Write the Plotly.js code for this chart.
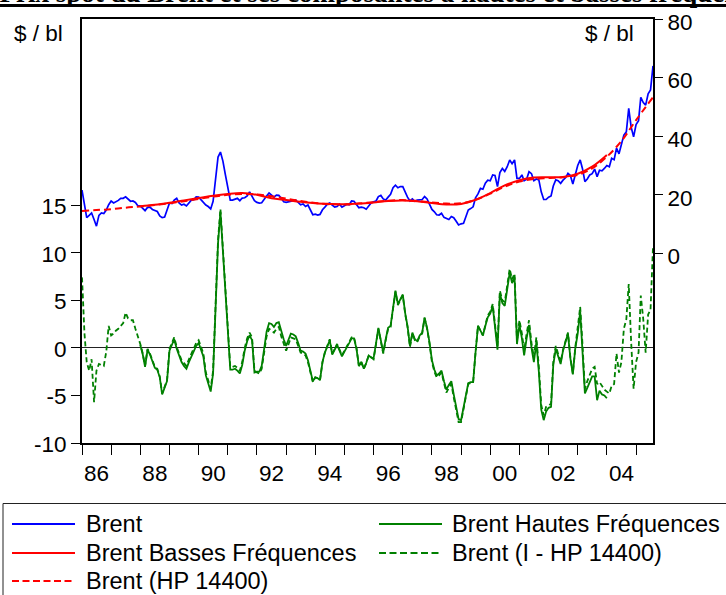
<!DOCTYPE html>
<html><head><meta charset="utf-8">
<script src="https://cdn.plot.ly/plotly-3.0.1.min.js"></script>
<style>html,body{margin:0;padding:0;background:#fff}#chart{width:726px;height:595px}</style>
</head><body><div id="chart"></div>
<script>
// ---- DATA (monthly, $/bl) ----
const brentStart = [1986, 1];
const brent = [
21.6,16.0,12.2,13.0,13.8,11.6,9.3,13.0,13.8,13.6,14.8,16.6,
17.9,17.2,17.6,18.1,18.8,18.8,19.3,18.4,17.8,17.9,17.4,16.3,
16.2,15.4,14.6,15.7,15.8,15.0,14.7,14.3,12.8,12.2,12.4,14.6,
17.2,17.0,18.2,18.8,17.2,16.5,16.8,16.2,17.4,18.2,18.3,19.3,
19.2,18.2,17.4,16.5,16.0,15.2,17.8,26.0,32.9,34.6,31.5,27.0,
22.0,18.2,18.2,18.6,18.8,18.0,18.9,19.0,19.6,21.0,19.6,18.0,
17.4,17.2,17.3,18.6,19.6,20.6,19.8,19.2,19.9,19.8,18.8,17.6,
17.4,17.6,18.0,18.2,18.2,17.4,16.6,16.9,16.0,16.5,14.8,13.2,
13.4,13.1,13.3,14.9,15.8,16.8,17.2,16.4,15.8,16.0,16.8,15.8,
16.2,16.8,16.6,17.9,17.8,16.6,15.6,15.8,15.6,15.1,16.2,17.2,
17.6,17.9,19.4,19.8,18.6,18.2,19.2,20.2,22.4,23.3,22.4,22.8,
22.8,20.6,19.2,17.9,18.6,17.8,18.2,18.3,18.4,19.4,18.6,16.8,
15.0,14.2,13.2,13.1,13.7,12.3,12.0,11.6,12.6,12.2,11.0,9.7,
10.1,10.3,12.4,14.8,15.3,15.9,19.0,20.3,22.2,21.9,24.0,25.0,
24.8,26.8,26.6,22.8,27.6,29.0,28.0,29.6,31.9,30.6,31.9,25.6,
25.6,26.8,24.8,25.3,27.9,27.2,24.8,25.4,25.1,21.0,18.4,18.4,
19.2,19.6,23.0,25.1,24.8,23.9,25.0,25.8,27.3,26.6,23.7,26.5,
30.0,31.9,29.0,24.5,25.4,26.8,27.2,28.8,26.2,28.4,28.2,29.0,
30.0,29.6,32.5,32.0,35.9,34.0,36.8,40.4,41.5,49.5,43.0,39.8,
44.0,45.3,53.3,51.5,50.6,54.5,55.8,64.0];

// Brent (I - HP 14400), monthly from 1986-01
const brentIHP = [
7.4,1.5,-1.5,-2.4,-1.2,-5.7,-2.4,-1.7,-1.8,-1.9,-0.4,2.3,
1.3,1.5,1.8,2.0,2.3,2.6,3.7,3.1,2.9,2.9,2.0,1.3,
0.4,-0.6,-1.9,-0.1,-0.6,-1.3,-2.0,-2.2,-3.0,-4.8,-4.0,-3.4,
-0.1,0.5,1.1,0.1,-0.6,-1.3,-1.6,-1.9,-1.2,-0.6,0.0,0.5,
0.8,0.1,-0.6,-2.6,-3.5,-4.3,-2.4,5.0,11.3,14.6,10.5,6.0,
1.5,-2.0,-2.0,-1.9,-2.1,-2.4,-1.5,0.0,1.0,1.6,1.1,-2.4,
-2.6,-2.7,-2.2,-0.2,1.2,2.0,1.8,1.6,2.0,2.2,1.2,0.4,
-0.3,0.4,1.1,1.0,0.9,0.2,-0.5,-0.6,-0.8,-1.5,-2.6,-3.6,
-3.1,-3.2,-3.4,-1.5,-0.5,0.2,0.9,-0.6,0.0,0.4,-0.2,-0.8,
-0.3,0.1,0.6,1.1,1.1,0.0,-1.9,-1.5,-2.2,-1.6,-0.8,-1.0,
-1.2,0.4,2.0,0.7,-0.6,0.8,2.0,2.2,4.0,5.9,4.5,5.0,
5.5,3.5,2.2,0.1,1.5,0.8,0.6,1.2,1.5,3.1,2.0,0.5,
-1.5,-2.5,-3.1,-2.9,-2.6,-3.7,-4.7,-4.2,-3.8,-5.2,-6.5,-7.8,
-7.8,-6.5,-5.0,-3.8,-3.7,-3.6,-0.5,2.3,1.8,1.3,2.4,3.4,
3.8,4.6,2.5,0.1,6.0,5.0,4.8,6.8,8.3,7.2,7.8,0.8,
2.9,1.5,-0.3,1.5,2.9,0.5,-1.0,1.1,-2.0,-6.0,-7.1,-6.2,
-6.0,-5.9,-1.5,0.2,-0.7,-1.5,-0.2,0.6,1.6,-1.0,-2.7,0.0,
2.0,4.3,0.5,-4.3,-3.5,-2.8,-2.2,-2.0,-3.8,-3.6,-4.0,-4.4,
-4.6,-4.8,-4.0,-3.8,-0.6,-2.6,-1.5,2.0,3.0,6.7,0.5,-4.3,
-1.5,-0.5,5.5,3.0,-0.5,3.5,4.0,10.6];

// Brent Hautes Fréquences, monthly from 1988-01 to 2004-01
const hfStart = [1988, 1];
const brentHF = [
0.3,-0.7,-2.0,-0.2,-0.7,-1.4,-2.1,-2.3,-3.1,-4.9,-4.1,-3.5,
-0.3,0.3,0.9,-0.1,-0.8,-1.5,-1.9,-2.2,-1.5,-0.9,-0.3,0.2,
0.5,-0.2,-0.9,-2.9,-3.8,-4.6,-2.7,4.7,11.0,14.3,10.2,5.7,
1.2,-2.3,-2.3,-2.2,-2.4,-2.7,-1.8,-0.3,0.7,1.3,0.8,-2.6,
-2.5,-2.5,-1.9,0.2,1.7,2.6,2.5,2.2,2.6,2.7,1.7,0.9,
0.2,0.8,1.5,1.4,1.2,0.5,-0.3,-0.4,-0.6,-1.3,-2.5,-3.5,
-3.1,-3.2,-3.4,-1.5,-0.5,0.2,0.8,-0.7,-0.1,0.3,-0.3,-0.9,
-0.4,0.0,0.5,1.0,1.0,-0.1,-1.9,-1.5,-2.2,-1.6,-0.8,-1.0,
-1.1,0.5,2.1,0.8,-0.5,0.9,2.1,2.3,4.1,6.0,4.6,5.1,
5.6,3.6,2.3,0.2,1.6,0.9,0.7,1.3,1.6,3.2,2.1,0.6,
-1.3,-2.3,-2.9,-2.7,-2.4,-3.5,-4.4,-3.9,-3.5,-4.9,-6.2,-7.5,
-7.6,-6.3,-4.8,-3.7,-3.6,-3.6,-0.5,2.3,1.8,1.3,2.3,3.2,
3.6,4.4,2.2,-0.2,5.7,4.7,4.4,6.4,7.9,6.8,7.4,0.4,
2.4,1.0,-0.8,1.0,2.4,0.0,-1.5,0.6,-2.5,-6.5,-7.6,-6.7,
-6.3,-6.2,-1.8,-0.1,-0.9,-1.7,-0.3,0.5,1.5,-1.1,-2.8,-0.1,
1.5,3.8,-0.3,-4.8,-4.2,-3.5,-3.0,-3.0,-5.5,-4.5,-4.9,-5.0,
-5.3];

// Brent (HP 14400) — smooth trend, read every six months
const hpDates = ['1986-01','1986-07','1987-01','1987-07','1988-01','1988-07','1989-01','1989-07',
'1990-01','1990-07','1991-01','1991-07','1992-01','1992-07','1993-01','1993-07','1994-01','1994-07',
'1995-01','1995-07','1996-01','1996-07','1997-01','1997-07','1998-01','1998-07','1999-01','1999-07',
'2000-01','2000-07','2001-01','2001-07','2002-01','2002-07','2003-01','2003-07','2004-01','2004-07',
'2005-01','2005-08'];
const brentHP = [14.5,14.8,15.1,15.6,16.0,16.5,17.1,17.8,
18.6,19.4,20.0,20.3,20.1,19.5,18.7,17.9,17.2,16.8,
16.7,17.0,17.5,18.0,18.2,17.9,17.4,17.0,17.1,18.3,
20.4,22.8,24.5,25.4,25.7,26.0,26.8,29.0,33.0,38.3,
45.5,53.3];

// Brent Basses Fréquences — smooth, read every six months
const bfDates = ['1988-01','1988-07','1989-01','1989-07','1990-01','1990-07','1991-01','1991-07',
'1992-01','1992-07','1993-01','1993-07','1994-01','1994-07','1995-01','1995-07','1996-01','1996-07',
'1997-01','1997-07','1998-01','1998-07','1999-01','1999-07','2000-01','2000-07','2001-01','2001-07',
'2002-01','2002-07','2003-01','2003-07','2004-01'];
const brentBF = [16.1,16.6,17.3,18.1,18.9,19.7,20.3,20.6,
20.0,18.8,18.2,17.6,17.1,16.9,16.8,17.0,17.4,17.9,
18.1,17.8,17.2,16.7,16.9,18.3,20.6,23.2,25.0,25.9,
26.0,26.1,27.2,29.6,33.6];

const yearLabels = ['86','88','90','92','94','96','98','00','02','04'];
const yearLabelYears = [1986,1988,1990,1992,1994,1996,1998,2000,2002,2004];
const leftTicks = [-10,-5,0,5,10,15];
const leftTickText = ['-10','-5','0','5','10','15'];
const rightTicks = [0,20,40,60,80];
const rightTickText = ['0','20','40','60','80'];
const legendNames = ['Brent','Brent Hautes Fréquences','Brent Basses Fréquences','Brent (I - HP 14400)','Brent (HP 14400)'];
const unitLabel = '$ / bl';
const titleText = 'Graphique : Prix spot du Brent et ses composantes à hautes et basses fréquences';

// ---- helpers ----
function monthDates(start, n){
  const out=[]; let y=start[0], m=start[1];
  for(let i=0;i<n;i++){ out.push(y+'-'+String(m).padStart(2,'0')+'-01'); m++; if(m>12){m=1;y++;} }
  return out;
}
const brentDates = monthDates(brentStart, brent.length);
const hfDates = monthDates(hfStart, brentHF.length);
const labelDates = yearLabelYears.map(y=>y+'-07-02');
const yearStarts = []; for(let y=1986;y<=2005;y++) yearStarts.push(y+'-01-01');

const FONT = 'Liberation Sans, Arial, Helvetica, sans-serif';
const BLUE='#0000ff', RED='#ff0000', GREEN='#008000';
const PL=82, PR=653, PT=19, PB=443;
const px2x = px => (px-PL)/(PR-PL);
const py2y = py => 1-(py-PT)/(PB-PT);

const traces = [
  {x:brentDates, y:brent, yaxis:'y2', type:'scatter', mode:'lines', name:legendNames[0], line:{color:BLUE,width:1.7}},
  {x:bfDates.map(d=>d+'-01'), y:brentBF, yaxis:'y2', type:'scatter', mode:'lines', name:legendNames[2], line:{color:RED,width:2,shape:'spline'}},
  {x:hpDates.map(d=>d+'-01'), y:brentHP, yaxis:'y2', type:'scatter', mode:'lines', name:legendNames[4], line:{color:RED,width:2,dash:'7px,4px',shape:'spline'}},
  {x:hfDates, y:brentHF, yaxis:'y', type:'scatter', mode:'lines', name:legendNames[1], line:{color:GREEN,width:1.8}},
  {x:brentDates, y:brentIHP, yaxis:'y', type:'scatter', mode:'lines', name:legendNames[3], line:{color:GREEN,width:1.8,dash:'5px,3px'}}
];

const legendItems = [
  {name:legendNames[0], color:BLUE, dash:'solid', col:0, row:0},
  {name:legendNames[1], color:GREEN, dash:'solid', col:1, row:0},
  {name:legendNames[2], color:RED, dash:'solid', col:0, row:1},
  {name:legendNames[3], color:GREEN, dash:'7px,3.5px', col:1, row:1},
  {name:legendNames[4], color:RED, dash:'7px,3.5px', col:0, row:2}
];
const colLine=[[12,75],[379,442]], colText=[85,451], rowY=[524,553,581];
const LEGFONT = 23.5;

const shapes = [
  {type:'rect', xref:'paper', yref:'paper', x0:px2x(3), x1:px2x(740), y0:py2y(503.5), y1:py2y(640), line:{color:'#222',width:1}, fillcolor:'rgba(0,0,0,0)'}
];
const annotations = [];
legendItems.forEach(it=>{
  shapes.push({type:'line', xref:'paper', yref:'paper', x0:px2x(colLine[it.col][0]), x1:px2x(colLine[it.col][1]),
    y0:py2y(rowY[it.row]), y1:py2y(rowY[it.row]), line:{color:it.color,width:2,dash:it.dash}});
  annotations.push({xref:'paper', yref:'paper', x:px2x(colText[it.col]), y:py2y(rowY[it.row]), xanchor:'left', yanchor:'middle',
    text:it.name, showarrow:false, font:{family:FONT,size:LEGFONT,color:'#000'}, borderpad:0});
});
annotations.push({xref:'paper', yref:'paper', x:px2x(38), y:py2y(33), xanchor:'center', yanchor:'middle', text:unitLabel, showarrow:false, font:{family:FONT,size:22.5,color:'#000'}});
annotations.push({xref:'paper', yref:'paper', x:px2x(609), y:py2y(33), xanchor:'center', yanchor:'middle', text:unitLabel, showarrow:false, font:{family:FONT,size:22.5,color:'#000'}});
// cut-off title strip at the very top
annotations.push({xref:'paper', yref:'paper', x:px2x(-150), y:py2y(9), xanchor:'left', yanchor:'bottom', text:titleText, showarrow:false, borderpad:0,
  font:{family:'Liberation Serif, Times New Roman, serif', size:27, color:'#000', weight:'bold'}});
annotations.push({xref:'paper', yref:'paper', x:px2x(-5), y:py2y(6.5), xanchor:'left', yanchor:'top', text:' ', showarrow:false, width:665, height:5, bgcolor:'#fff', borderpad:0, borderwidth:0});
annotations.push({xref:'paper', yref:'paper', x:px2x(-5), y:py2y(5), xanchor:'left', yanchor:'middle', text:' ', showarrow:false, width:740, height:3.4, bgcolor:'#000', borderpad:0, borderwidth:0});

const TF = {family:FONT,size:22.5,color:'#000'};
const layout = {
  width:726, height:595, paper_bgcolor:'#fff', plot_bgcolor:'#fff',
  margin:{l:PL, r:726-PR, t:PT, b:595-PB, pad:0},
  showlegend:false,
  font:{family:FONT, size:22, color:'#000'},
  xaxis:{type:'date', range:['1986-01-01','2005-08-01'], showline:true, linecolor:'#000', linewidth:2, mirror:true,
    showgrid:false, zeroline:false, tickmode:'array', tickvals:labelDates, ticktext:yearLabels,
    ticks:'outside', ticklen:9, tickcolor:'rgba(0,0,0,0)', tickfont:TF,
    minor:{tickmode:'array', tickvals:yearStarts, ticks:'outside', ticklen:10, tickcolor:'#000', tickwidth:1, showgrid:false}},
  yaxis:{range:[-10,34.55], tickmode:'array', tickvals:leftTicks, ticktext:leftTickText, ticks:'outside', ticklen:9, tickcolor:'#000', tickwidth:1,
    showline:true, linecolor:'#000', linewidth:2, showgrid:false, zeroline:true, zerolinecolor:'#222', zerolinewidth:1,
    tickfont:TF, ticklabelshift:1},
  yaxis2:{overlaying:'y', side:'right', range:[-64.7,80], tickmode:'array', tickvals:rightTicks, ticktext:rightTickText, ticks:'outside', ticklen:8,
    tickcolor:'#000', tickwidth:1, showline:true, linecolor:'#000', linewidth:2, showgrid:false, zeroline:false,
    tickfont:TF, ticklabelshift:3},
  shapes:shapes, annotations:annotations
};
Plotly.newPlot('chart', traces, layout, {staticPlot:true, displayModeBar:false});
</script>
</body></html>
